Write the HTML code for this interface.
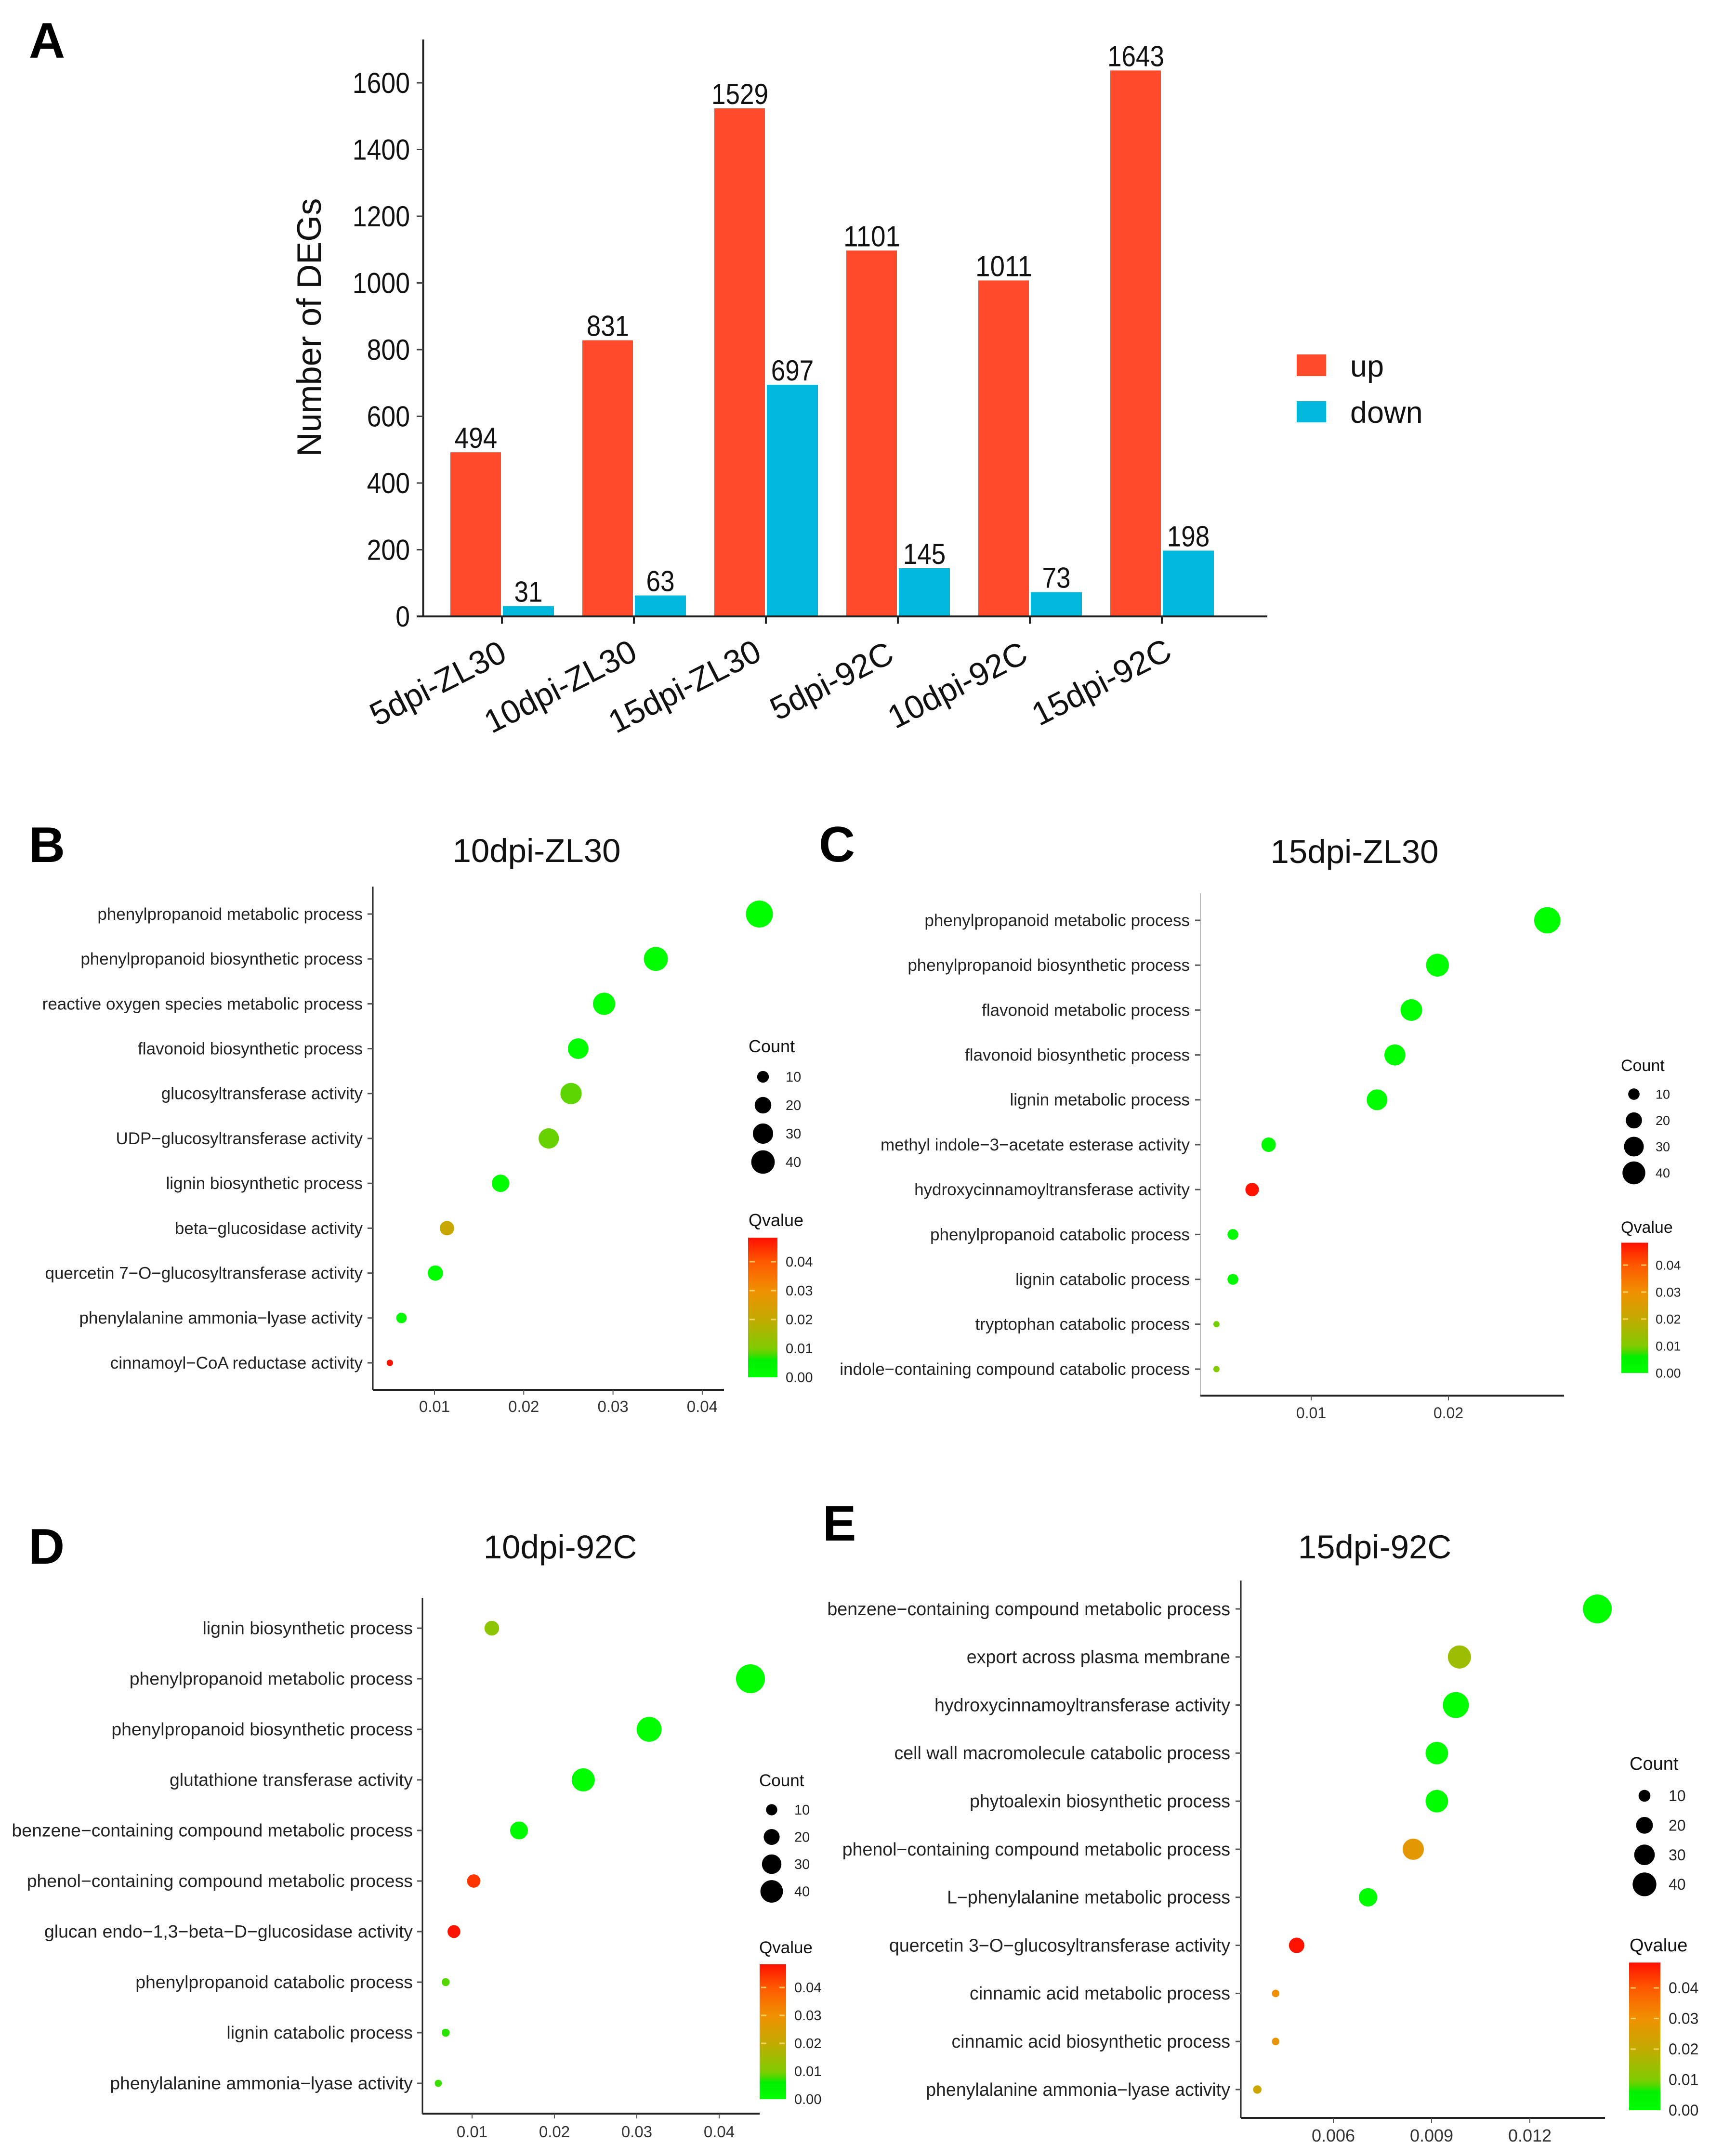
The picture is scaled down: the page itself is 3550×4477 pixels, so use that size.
<!DOCTYPE html>
<html lang="en">
<head>
<meta charset="utf-8">
<title>DEG counts and GO enrichment panels</title>
<style>
html,body{margin:0;padding:0;background:#fff;}
svg{display:block;font-family:"Liberation Sans",Arial,sans-serif;}
</style>
</head>
<body>
<svg id="figure" xmlns="http://www.w3.org/2000/svg" width="3550" height="4477" viewBox="0 0 3550 4477">
<rect x="0" y="0" width="3550" height="4477" fill="#fff"/>
<defs>
<linearGradient id="qGradient" x1="0" y1="1" x2="0" y2="0">
<stop offset="0" stop-color="#00ff00"/>
<stop offset="0.124" stop-color="#00f000"/>
<stop offset="0.166" stop-color="#50d800"/>
<stop offset="0.207" stop-color="#80cc00"/>
<stop offset="0.414" stop-color="#c3ab00"/>
<stop offset="0.621" stop-color="#f09000"/>
<stop offset="0.828" stop-color="#ff5800"/>
<stop offset="1" stop-color="#ff1000"/>
</linearGradient>
</defs>
<text x="60" y="120" font-size="104" font-weight="bold" fill="#000">A</text>
<text x="60" y="1790" font-size="104" font-weight="bold" fill="#000">B</text>
<text x="1700" y="1789" font-size="104" font-weight="bold" fill="#000">C</text>
<text x="59" y="3247" font-size="104" font-weight="bold" fill="#000">D</text>
<text x="1708" y="3199" font-size="104" font-weight="bold" fill="#000">E</text>
<text transform="translate(666,680) rotate(-90)" text-anchor="middle" font-size="70.5" fill="#111">Number of DEGs</text>
<rect x="2692" y="736" width="61" height="45" fill="#ff4a2c"/>
<text x="2803" y="782" font-size="63" fill="#111">up</text>
<rect x="2692" y="833" width="61" height="44" fill="#00b8dc"/>
<text x="2803" y="878" font-size="63" fill="#111">down</text>
</svg>
<script>
// Panel A data
const barCategories = ["5dpi-ZL30", "10dpi-ZL30", "15dpi-ZL30", "5dpi-92C", "10dpi-92C", "15dpi-92C"];
const upValues = [494, 831, 1529, 1101, 1011, 1643];
const downValues = [31, 63, 697, 145, 73, 198];
const barYTicks = [0, 200, 400, 600, 800, 1000, 1200, 1400, 1600];

// Panel B data
const bTitle = "10dpi-ZL30";
const bTerms = ["phenylpropanoid metabolic process", "phenylpropanoid biosynthetic process", "reactive oxygen species metabolic process", "flavonoid biosynthetic process", "glucosyltransferase activity", "UDP\u2212glucosyltransferase activity", "lignin biosynthetic process", "beta\u2212glucosidase activity", "quercetin 7\u2212O\u2212glucosyltransferase activity", "phenylalanine ammonia\u2212lyase activity", "cinnamoyl\u2212CoA reductase activity"];
const bRatio = [0.0464, 0.0348, 0.0290, 0.0261, 0.0253, 0.0228, 0.0174, 0.0114, 0.0101, 0.0063, 0.0050];
const bCount = [53, 42, 36, 31, 33, 30, 22, 15, 17, 8, 3];
const bQvalue = [0.001, 0.001, 0.001, 0.001, 0.0085, 0.009, 0.001, 0.021, 0.001, 0.002, 0.048];
const bXTicks = [0.01, 0.02, 0.03, 0.04];

// Panel C data
const cTitle = "15dpi-ZL30";
const cTerms = ["phenylpropanoid metabolic process", "phenylpropanoid biosynthetic process", "flavonoid metabolic process", "flavonoid biosynthetic process", "lignin metabolic process", "methyl indole\u22123\u2212acetate esterase activity", "hydroxycinnamoyltransferase activity", "phenylpropanoid catabolic process", "lignin catabolic process", "tryptophan catabolic process", "indole\u2212containing compound catabolic process"];
const cRatio = [0.0272, 0.0192, 0.0173, 0.0161, 0.0148, 0.0069, 0.0057, 0.0043, 0.0043, 0.0031, 0.0031];
const cCount = [53, 40, 36, 34, 33, 16, 14, 9, 9, 3, 3];
const cQvalue = [0.001, 0.001, 0.001, 0.001, 0.001, 0.002, 0.048, 0.002, 0.002, 0.0095, 0.0105];
const cXTicks = [0.01, 0.02];

// Panel D data
const dTitle = "10dpi-92C";
const dTerms = ["lignin biosynthetic process", "phenylpropanoid metabolic process", "phenylpropanoid biosynthetic process", "glutathione transferase activity", "benzene\u2212containing compound metabolic process", "phenol\u2212containing compound metabolic process", "glucan endo\u22121,3\u2212beta\u2212D\u2212glucosidase activity", "phenylpropanoid catabolic process", "lignin catabolic process", "phenylalanine ammonia\u2212lyase activity"];
const dRatio = [0.0124, 0.0438, 0.0315, 0.0235, 0.0157, 0.0102, 0.0078, 0.0068, 0.0068, 0.0059];
const dCount = [17, 66, 49, 42, 25, 14, 13, 5, 5, 4];
const dQvalue = [0.012, 0.001, 0.001, 0.001, 0.002, 0.044, 0.048, 0.0082, 0.007, 0.0075];
const dXTicks = [0.01, 0.02, 0.03, 0.04];

// Panel E data
const eTitle = "15dpi-92C";
const eTerms = ["benzene\u2212containing compound metabolic process", "export across plasma membrane", "hydroxycinnamoyltransferase activity", "cell wall macromolecule catabolic process", "phytoalexin biosynthetic process", "phenol\u2212containing compound metabolic process", "L\u2212phenylalanine metabolic process", "quercetin 3\u2212O\u2212glucosyltransferase activity", "cinnamic acid metabolic process", "cinnamic acid biosynthetic process", "phenylalanine ammonia\u2212lyase activity"];
const eRatio = [0.01406, 0.00985, 0.00974, 0.00916, 0.00916, 0.00844, 0.00706, 0.00488, 0.00424, 0.00424, 0.00368];
const eCount = [59, 38, 48, 36, 36, 32, 24, 17, 4, 4, 5];
const eQvalue = [0.001, 0.014, 0.001, 0.001, 0.001, 0.027, 0.001, 0.048, 0.03, 0.028, 0.022];
const eXTicks = [0.006, 0.009, 0.012];

// Shared legend data
const legendCounts = [10, 20, 30, 40];
const legendQTicks = [0, 0.01, 0.02, 0.03, 0.04];
const qMaximum = 0.0483;

const NS = "http://www.w3.org/2000/svg";
const figure = document.getElementById("figure");

function add(tag, attrs, text) {
  const el = document.createElementNS(NS, tag);
  for (const key in attrs) el.setAttribute(key, attrs[key]);
  if (text !== undefined) el.textContent = text;
  figure.appendChild(el);
  return el;
}

function qColor(q) {
  const pos = [0, 0.006, 0.008, 0.01, 0.02, 0.03, 0.04, 0.0483];
  const rgb = [[0,255,0],[0,240,0],[80,216,0],[128,204,0],[195,171,0],[240,144,0],[255,88,0],[255,16,0]];
  for (let i = 1; i < pos.length; i++) {
    if (q <= pos[i]) {
      const t = (q - pos[i-1]) / (pos[i] - pos[i-1]);
      const c = rgb[i].map((v, k) => Math.round(rgb[i-1][k] + (v - rgb[i-1][k]) * t));
      return "rgb(" + c.join(",") + ")";
    }
  }
  return "rgb(255,16,0)";
}

function drawBarChart() {
  const tickScale = v => 1280 - v * 0.6925;
  const yScale = v => 1280 - v * 0.69;
  const xScale = i => 1042 + i * 274;
  const labelShiftX = [14, 11, -5, -4, 0, 25];
  const labelShiftY = [4, 2, 2, 6, 6, 0];
  let el;
  el = add("line", {x1: 878.5, y1: 82, x2: 878.5, y2: 1282, stroke: "#222", "stroke-width": 4});
  
  
  barYTicks.forEach(v => {
    const label = String(v);
    el = add("line", {x1: 865, y1: tickScale(v), x2: 879, y2: tickScale(v), stroke: "#444", "stroke-width": 3});
    
    
    el = add("text", {x: 851, y: tickScale(v) + 21, "text-anchor": "end", "font-size": 60, textLength: label.length * 29.8, lengthAdjust: "spacingAndGlyphs", fill: "#111"}, label);
    
    
  });
  barCategories.forEach((cat, i) => {
    const cx = xScale(i);
    const upText = String(upValues[i]);
    const downText = String(downValues[i]);
    el = add("rect", {x: cx - 107, y: yScale(upValues[i]), width: 105, height: yScale(0) - yScale(upValues[i]), fill: "#ff4a2c"});
    
    
    el = add("rect", {x: cx + 2, y: yScale(downValues[i]), width: 106, height: yScale(0) - yScale(downValues[i]), fill: "#00b8dc"});
    
    
    el = add("text", {x: cx - 54, y: yScale(upValues[i]) - 9, "text-anchor": "middle", "font-size": 60, textLength: upText.length * 29.5, lengthAdjust: "spacingAndGlyphs", fill: "#111"}, upText);
    
    
    el = add("text", {x: cx + 55, y: yScale(downValues[i]) - 9, "text-anchor": "middle", "font-size": 60, textLength: downText.length * 29.5, lengthAdjust: "spacingAndGlyphs", fill: "#111"}, downText);
    
    
    el = add("line", {x1: cx, y1: 1280, x2: cx, y2: 1295, stroke: "#222", "stroke-width": 4});
    
    
    el = add("text", {transform: "translate(" + (cx + labelShiftX[i]) + "," + (1366 + labelShiftY[i]) + ") rotate(-27)", "text-anchor": "end", "font-size": 68, fill: "#111"}, cat);
    
    
  });
  el = add("line", {x1: 865, y1: 1280, x2: 2631, y2: 1280, stroke: "#222", "stroke-width": 4});
  
  
}

function drawDotPanel(title, terms, ratios, counts, qvalues, xTicks, g) {
  const xScale = v => g.xRef + (v - g.refValue) * g.xPerUnit;
  const yScale = i => g.rowTop + i * g.rowStep;
  const rScale = c => g.k * Math.sqrt(c);
  const qScale = q => g.barBottom - q * g.barPerUnit;
  const barTop = qScale(qMaximum);
  const axisOf = xTicks[0] < 0.01 ? 3 : 2;
  let el;

  el = add("text", {x: g.titleX, y: g.titleY, "text-anchor": "middle", "font-size": 69, fill: "#111"}, title);
  
  

  el = add("line", {x1: g.axisX, y1: g.axisTop, x2: g.axisX, y2: g.axisBottom, stroke: g.yAxisColor, "stroke-width": g.yAxisWidth});
  
  
  el = add("line", {x1: g.axisX, y1: g.axisBottom, x2: g.axisRight, y2: g.axisBottom, stroke: "#222", "stroke-width": 4});
  
  

  xTicks.forEach(v => {
    el = add("line", {x1: xScale(v), y1: g.axisBottom, x2: xScale(v), y2: g.axisBottom + 10, stroke: "#555", "stroke-width": 2});
    
    
    el = add("text", {x: xScale(v), y: g.xLabelY, "text-anchor": "middle", "font-size": g.xFont, fill: "#333"}, v.toFixed(axisOf));
    
    
  });

  terms.forEach((term, i) => {
    el = add("line", {x1: g.axisX - 11, y1: yScale(i), x2: g.axisX, y2: yScale(i), stroke: "#555", "stroke-width": 3});
    
    
    el = add("text", {x: g.labelRight, y: yScale(i) + g.labelFont * 0.34, "text-anchor": "end", "font-size": g.labelFont, fill: "#222"}, term);
    
    
    el = add("circle", {cx: xScale(ratios[i]), cy: yScale(i), r: rScale(counts[i]), fill: qColor(qvalues[i])});
    
    
  });

  el = add("text", {x: g.legendX, y: g.countTitleY, "font-size": g.titleFont, fill: "#111"}, "Count");
  
  
  legendCounts.forEach((c, i) => {
    const ly = g.countTop + i * g.countStep;
    el = add("circle", {cx: g.dotX, cy: ly, r: rScale(c), fill: "#000"});
    
    
    el = add("text", {x: g.legendLabelX, y: ly + g.legendFont * 0.35, "font-size": g.legendFont, fill: "#222"}, String(c));
    
    
  });

  el = add("text", {x: g.legendX, y: g.qTitleY, "font-size": g.titleFont, fill: "#111"}, "Qvalue");
  
  
  el = add("rect", {x: g.barX, y: barTop, width: g.barW, height: g.barBottom - barTop, fill: "url(#qGradient)"});
  
  
  legendQTicks.forEach(q => {
    if (q > 0.015) {
      el = add("line", {x1: g.barX + 3, y1: qScale(q), x2: g.barX + 14, y2: qScale(q), stroke: "#ffe680", "stroke-width": 3, opacity: 0.75});
      
      
      el = add("line", {x1: g.barX + g.barW - 14, y1: qScale(q), x2: g.barX + g.barW - 3, y2: qScale(q), stroke: "#ffe680", "stroke-width": 3, opacity: 0.75});
      
      
    }
    el = add("text", {x: g.legendLabelX, y: qScale(q) + g.legendFont * 0.35, "font-size": g.legendFont, fill: "#222"}, q.toFixed(2));
    
    
  });
}

drawBarChart();

drawDotPanel(bTitle, bTerms, bRatio, bCount, bQvalue, bXTicks, {
  titleX: 1114, titleY: 1790, axisX: 774, axisTop: 1841, axisBottom: 2886, axisRight: 1503,
  yAxisColor: "#222", yAxisWidth: 3, xRef: 902, refValue: 0.01, xPerUnit: 18530,
  rowTop: 1898, rowStep: 93.2, labelRight: 753, labelFont: 35, xLabelY: 2932, xFont: 33, k: 3.85,
  legendX: 1554, countTitleY: 2185, titleFont: 36, dotX: 1584, countTop: 2236, countStep: 59,
  legendLabelX: 1631, legendFont: 29, qTitleY: 2546, barX: 1553, barW: 61, barBottom: 2860, barPerUnit: 6000
});

drawDotPanel(cTitle, cTerms, cRatio, cCount, cQvalue, cXTicks, {
  titleX: 2812, titleY: 1792, axisX: 2492, axisTop: 1855, axisBottom: 2898, axisRight: 3247,
  yAxisColor: "#bbb", yAxisWidth: 2, xRef: 2722, refValue: 0.01, xPerUnit: 28500,
  rowTop: 1911, rowStep: 93.2, labelRight: 2470, labelFont: 35, xLabelY: 2945, xFont: 32, k: 3.75,
  legendX: 3365, countTitleY: 2224, titleFont: 34, dotX: 3392, countTop: 2272, countStep: 54.5,
  legendLabelX: 3437, legendFont: 27, qTitleY: 2560, barX: 3366, barW: 55, barBottom: 2851, barPerUnit: 5600
});

drawDotPanel(dTitle, dTerms, dRatio, dCount, dQvalue, dXTicks, {
  titleX: 1163, titleY: 3236, axisX: 877, axisTop: 3318, axisBottom: 4389, axisRight: 1577,
  yAxisColor: "#222", yAxisWidth: 3, xRef: 980, refValue: 0.01, xPerUnit: 17100,
  rowTop: 3381, rowStep: 105, labelRight: 857, labelFont: 37.4, xLabelY: 4438, xFont: 33, k: 3.7,
  legendX: 1576, countTitleY: 3709, titleFont: 35, dotX: 1602, countTop: 3758, countStep: 56.5,
  legendLabelX: 1649, legendFont: 29, qTitleY: 4056, barX: 1577, barW: 55, barBottom: 4359, barPerUnit: 5800
});

drawDotPanel(eTitle, eTerms, eRatio, eCount, eQvalue, eXTicks, {
  titleX: 2854, titleY: 3236, axisX: 2576, axisTop: 3282, axisBottom: 4398, axisRight: 3332,
  yAxisColor: "#222", yAxisWidth: 3, xRef: 2768, refValue: 0.006, xPerUnit: 68000,
  rowTop: 3341, rowStep: 99.8, labelRight: 2554, labelFont: 37.6, xLabelY: 4447, xFont: 36, k: 3.9,
  legendX: 3383, countTitleY: 3675, titleFont: 38, dotX: 3414, countTop: 3729, countStep: 61.3,
  legendLabelX: 3464, legendFont: 32, qTitleY: 4052, barX: 3382, barW: 65, barBottom: 4382, barPerUnit: 6350
});
</script>
</body>
</html>
